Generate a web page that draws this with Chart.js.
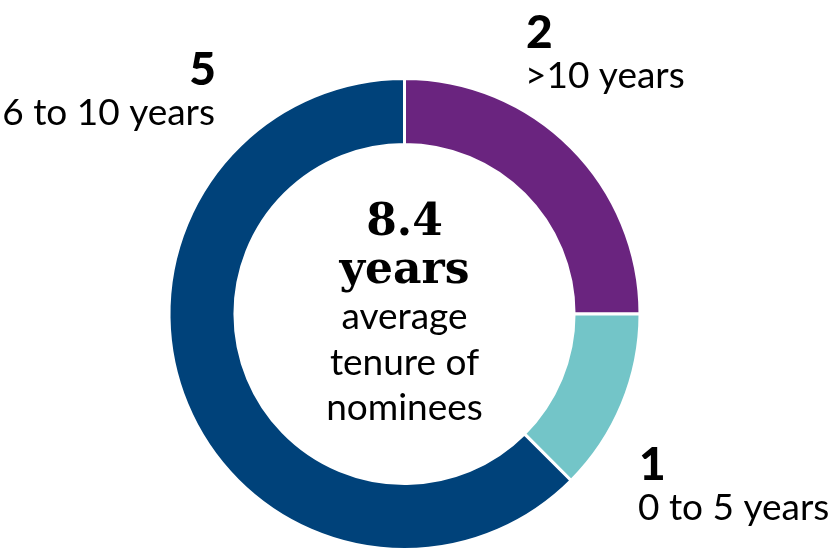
<!DOCTYPE html>
<html>
<head>
<meta charset="utf-8">
<script src="https://cdn.jsdelivr.net/npm/chart.js@4.4.1/dist/chart.umd.min.js"></script>
<style>
  html, body { margin: 0; padding: 0; background: #fff; }
  #wrap { width: 833px; height: 554px; position: relative; }
</style>
</head>
<body>
<div id="wrap"><canvas id="chart"></canvas></div>
<script>
  // data
  const categories = [">10 years", "0 to 5 years", "6 to 10 years"];
  const counts = [2, 1, 5];
  const colors = ["#6a247f", "#73c5c8", "#00427a"];
  const centerLines = ["8.4", "years", "average", "tenure of", "nominees"];

  // where the labels sit (count on top, category below)
  const labelSpots = [
    { x: 526, y: 48, align: "left" },
    { x: 639, y: 480, align: "left" },
    { x: 216, y: 85, align: "right" }
  ];

  const labelsPlugin = {
    id: "labels",
    afterDraw(chart) {
      const ctx = chart.ctx;
      ctx.save();
      ctx.fillStyle = "#000";
      ctx.textBaseline = "alphabetic";

      labelSpots.forEach((s, i) => {
        ctx.textAlign = s.align;
        ctx.font = "900 46px Lato";
        ctx.fillText(String(counts[i]), s.x, s.y);
        ctx.font = "37px Lato";
        ctx.fillText(categories[i], s.x - 1, s.y + 40);
      });

      const arc = chart.getDatasetMeta(0).data[0];
      const cx = arc.x;
      ctx.textAlign = "center";
      ctx.font = "bold 44px 'DejaVu Serif'";
      ctx.fillText(centerLines[0], cx, 235);
      ctx.fillText(centerLines[1], cx, 283);
      ctx.font = "37px Lato";
      ctx.fillText(centerLines[2], cx, 329);
      ctx.fillText(centerLines[3], cx, 375);
      ctx.fillText(centerLines[4], cx, 420);
      ctx.restore();
    }
  };

  new Chart(document.getElementById("chart"), {
    type: "doughnut",
    data: {
      labels: categories,
      datasets: [{
        data: counts,
        backgroundColor: colors,
        borderColor: "#fff",
        borderWidth: 3
      }]
    },
    options: {
      responsive: true,
      maintainAspectRatio: false,
      animation: false,
      cutout: "72%",
      layout: { padding: { top: 77, bottom: 3, left: 167, right: 191 } },
      plugins: { legend: { display: false }, tooltip: { enabled: false } }
    },
    plugins: [labelsPlugin]
  });
</script>
</body>
</html>
